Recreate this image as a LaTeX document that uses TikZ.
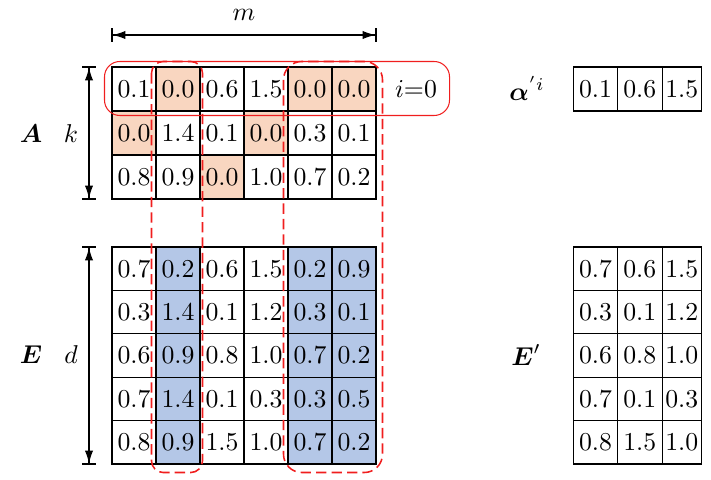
\documentclass[tikz,border=0pt]{standalone}
\usepackage{amsmath}
\usetikzlibrary{positioning,calc,arrows.meta}
\definecolor{zerofill}{RGB}{249,214,192}
\definecolor{selfill}{RGB}{180,199,231}
\definecolor{boxred}{RGB}{240,30,30}
\tikzset{cell/.style={draw, thin, minimum width=0.6cm, minimum height=0.6cm, inner sep=0pt}}
\tikzset{ecell/.style={cell, minimum height=0.592cm}}
\tikzset{zcell/.style={cell, fill=zerofill}}
\tikzset{scell/.style={ecell, fill=selfill}}
\tikzset{dimarr/.style={draw, thin, {Bar[width=5.4pt]Latex[length=5pt,width=3.2pt]}-{Latex[length=5pt,width=3.2pt]Bar[width=5.4pt]}}}
\tikzset{rowbox/.style={draw=boxred, thin, rounded corners=0.21cm}}
\tikzset{colbox/.style={draw=boxred, semithick, dash pattern=on 4pt off 2pt}}

\begin{document}
\begin{tikzpicture}[x=0.013636cm, y=-0.013636cm]
	\useasboundingbox (0,0) rectangle (711,480);
	% A
	\foreach \row [count=\r] in {{0.1,0.0,0.6,1.5,0.0,0.0},{0.0,1.4,0.1,0.0,0.3,0.1},{0.8,0.9,0.0,1.0,0.7,0.2}}{
		\foreach \v [count=\c] in \row {
			\ifdim\v pt=0pt \def\cs{zcell}\else\def\cs{cell}\fi
			\node[\cs] (A-\r-\c) at (90+44*\c, 45+44*\r) {$\v$};
		}
	}
	% E
	\foreach \row [count=\r] in {{0.7,0.2,0.6,1.5,0.2,0.9},{0.3,1.4,0.1,1.2,0.3,0.1},{0.6,0.9,0.8,1.0,0.7,0.2},{0.7,1.4,0.1,0.3,0.3,0.5},{0.8,0.9,1.5,1.0,0.7,0.2}}{
		\foreach \v [count=\c] in \row {
			\def\cs{ecell}
			\ifnum\c=2 \def\cs{scell}\fi
			\ifnum\c>4 \def\cs{scell}\fi
			\node[\cs] (E-\r-\c) at (90+44*\c, 225.3+43.4*\r) {$\v$};
		}
	}
	% alpha' and E'
	\foreach \v/\x [count=\c] in {0.1/595.5, 0.6/639.8, 1.5/681.7}{
		\node[cell, minimum width={(\c==3 ? 39.3 : 44.4)*0.013636cm}] (al-\c) at (\x, 89) {$\v$};
	}
	\foreach \row [count=\r] in {{0.7,0.6,1.5},{0.3,0.1,1.2},{0.6,0.8,1.0},{0.7,0.1,0.3},{0.8,1.5,1.0}}{
		\foreach \v/\x [count=\c] in \row {
			\ifcase\c\or\def\x{595.5}\or\def\x{639.8}\or\def\x{681.7}\fi
			\node[ecell, minimum width={(\c==3 ? 39.3 : 44.4)*0.013636cm}] (Ep-\r-\c) at (\x, 225.3+43.4*\r) {$\v$};
		}
	}
	% labels
	\node (lblA) at (31, 134) {$\boldsymbol{A}$};
	\node (lblk) at (71, 134) {$k$};
	\node (lblE) at (31, 355) {$\boldsymbol{E}$};
	\node (lbld) at (71, 355) {$d$};
	\node (lblm) at (244, 15) {$m$};
	\node (lblal) at (527, 88) {$\boldsymbol{\alpha}^{'i}$};
	\node (lblEp) at (526, 355) {$\boldsymbol{E}'$};
	\node (lbli) at (416, 89) {$i{=}0$};
	% dimension arrows
	\coordinate (m1) at (A-1-1.north west |- 0,35);
	\coordinate (m2) at (A-1-6.north east |- 0,35);
	\draw[dimarr] (m1) -- (m2);
	\coordinate (k1) at (89,0 |- A-1-1.north);
	\coordinate (k2) at (89,0 |- A-3-1.south);
	\draw[dimarr] (k1) -- (k2);
	\coordinate (d1) at (89,0 |- E-1-1.north);
	\coordinate (d2) at (89,0 |- E-5-1.south);
	\draw[dimarr] (d1) -- (d2);
	% selection boxes
	\draw[rowbox] ($(A-1-1.north west)+(-7,-5)$) rectangle ($(A-1-6.south east)+(73,4)$);
	\draw[colbox, rounded corners=0.16cm] ($(A-1-2.north west)+(-4,-5)$) rectangle ($(E-5-2.south east)+(2,8)$);
	\draw[colbox, rounded corners=0.25cm] ($(A-1-5.north west)+(-4,-5)$) rectangle ($(E-5-6.south east)+(6,8)$);
\end{tikzpicture}
\end{document}
